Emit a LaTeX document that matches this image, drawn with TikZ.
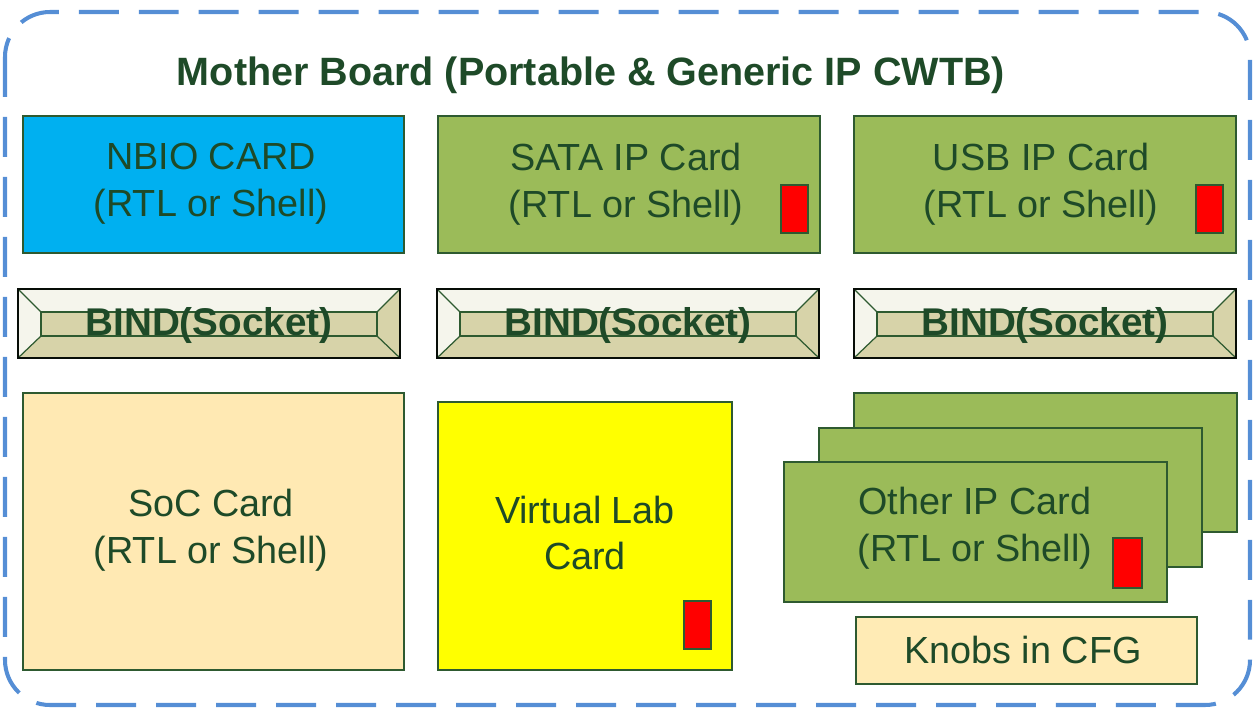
\documentclass[tikz,border=0pt]{standalone}
\usepackage{fontspec}
\setmainfont{Liberation Sans}
\usetikzlibrary{fit}
\definecolor{dashblue}{HTML}{558ED5}
\definecolor{txtgreen}{HTML}{1E4A28}
\definecolor{cardborder}{HTML}{2E5A30}
\definecolor{nbioblue}{HTML}{00B0F0}
\definecolor{ipgreen}{HTML}{9BBB59}
\definecolor{padred}{HTML}{FF0000}
\definecolor{soctan}{HTML}{FFE9B3}
\definecolor{knobtan}{HTML}{FFEBB5}
\definecolor{vlyellow}{HTML}{FFFF00}
\definecolor{bevlight}{HTML}{F5F5EC}
\definecolor{bevtan}{HTML}{D7D3A9}
\newcommand{\cardfont}{\fontsize{21.5pt}{26.6pt}\selectfont}
\newcommand{\boldfont}{\fontsize{22pt}{26.6pt}\selectfont\bfseries}
\newcommand{\titlefont}{\fontsize{22.5pt}{27pt}\selectfont\bfseries}
\begin{document}
\begin{tikzpicture}[x=0.02cm,y=-0.02cm,
  card/.style={draw=cardborder, line width=0.9pt, inner sep=0pt},
  cardtxt/.style={align=center, text=txtgreen, font=\cardfont, inner sep=0pt},
  pad/.style={draw=cardborder, line width=0.9pt, fill=padred, inner sep=0pt},
  bindtxt/.style={font=\boldfont, text=txtgreen, inner sep=0pt},
  bevline/.style={draw=cardborder, line width=0.7pt},
  board/.style={draw=dashblue, line width=2.3pt, dash pattern=on 0.8cm off 0.4cm, rounded corners=0.9cm}
]
\useasboundingbox (0,0) rectangle (1255,714);

% mother board outline
\draw[board] (5,12) rectangle (1250,705);
\node[font=\titlefont, text=txtgreen, inner sep=0pt] (title) at (591,75) {Mother Board (Portable \& Generic IP CWTB)};

% corner coordinates
\coordinate (nbA) at (23,116);   \coordinate (nbB) at (404,253);
\coordinate (saA) at (438,116);  \coordinate (saB) at (820,253);
\coordinate (usA) at (854,116);  \coordinate (usB) at (1236,253);
\coordinate (soA) at (23,393);   \coordinate (soB) at (404,670);
\coordinate (vlA) at (438,402);  \coordinate (vlB) at (732,670);
\coordinate (o3A) at (854,393);  \coordinate (o3B) at (1237,532);
\coordinate (o2A) at (819,428);  \coordinate (o2B) at (1202,567);
\coordinate (o1A) at (784,462);  \coordinate (o1B) at (1167,602);
\coordinate (knA) at (856,617);  \coordinate (knB) at (1197,684);

% top cards
\node[card, fill=nbioblue, fit=(nbA)(nbB)] (nbio) {};
\node[card, fill=ipgreen, fit=(saA)(saB)] (sata) {};
\node[card, fill=ipgreen, fit=(usA)(usB)] (usb) {};
\node[cardtxt] (nbiotxt) at (211,184) {NBIO CARD\\(RTL or Shell)};
\node[cardtxt] (satatxt) at (626,184) {SATA IP Card\\(RTL or Shell)};
\node[cardtxt] (usbtxt) at (1041,184) {USB IP Card\\(RTL or Shell)};
\coordinate (p1A) at (781,185); \coordinate (p1B) at (808,233);
\coordinate (p2A) at (1196,185); \coordinate (p2B) at (1223,233);
\node[pad, fit=(p1A)(p1B)] (satapad) {};
\node[pad, fit=(p2A)(p2B)] (usbpad) {};

% BIND sockets
\foreach \dx/\nm in {0/1, 419/2, 836/3} {
  \begin{scope}[shift={(\dx,0)}]
    \fill[bevlight] (18,289) -- (400,289) -- (377,312) -- (41,312) -- cycle;
    \fill[bevlight] (18,289) -- (41,312) -- (41,336) -- (18,358) -- cycle;
    \fill[bevtan] (400,289) -- (400,358) -- (377,336) -- (377,312) -- cycle;
    \fill[bevtan] (18,358) -- (400,358) -- (377,336) -- (41,336) -- cycle;
    \fill[bevtan] (41,312) rectangle (377,336);
    \draw[bevline] (41,312) rectangle (377,336);
    \draw[bevline] (18,289) -- (41,312) (400,289) -- (377,312)
                   (18,358) -- (41,336) (400,358) -- (377,336);
    \draw[draw=black!85!cardborder, line width=0.9pt] (18,289) rectangle (400,358);
    \node[bindtxt] (bind\nm) at (209,325) {BIND(Socket)};
  \end{scope}
}

% lower cards
\node[card, fill=soctan, fit=(soA)(soB)] (soc) {};
\node[cardtxt] (soctxt) at (211,530) {SoC Card\\(RTL or Shell)};
\node[card, fill=vlyellow, fit=(vlA)(vlB)] (vlab) {};
\node[cardtxt] (vlabtxt) at (585,533) {Virtual Lab\\Card};
\coordinate (p3A) at (684,601); \coordinate (p3B) at (711,649);
\node[pad, fit=(p3A)(p3B)] (vlabpad) {};

\node[card, fill=ipgreen, fit=(o3A)(o3B)] (other3) {};
\node[card, fill=ipgreen, fit=(o2A)(o2B)] (other2) {};
\node[card, fill=ipgreen, fit=(o1A)(o1B)] (other1) {};
\node[cardtxt] (othertxt) at (975,528) {Other IP Card\\(RTL or Shell)};
\coordinate (p4A) at (1113,538); \coordinate (p4B) at (1142,588);
\node[pad, fit=(p4A)(p4B)] (otherpad) {};

\node[card, fill=knobtan, fit=(knA)(knB)] (knobs) {};
\node[cardtxt] (knobstxt) at (1023,650) {Knobs in CFG};
\end{tikzpicture}
\end{document}
